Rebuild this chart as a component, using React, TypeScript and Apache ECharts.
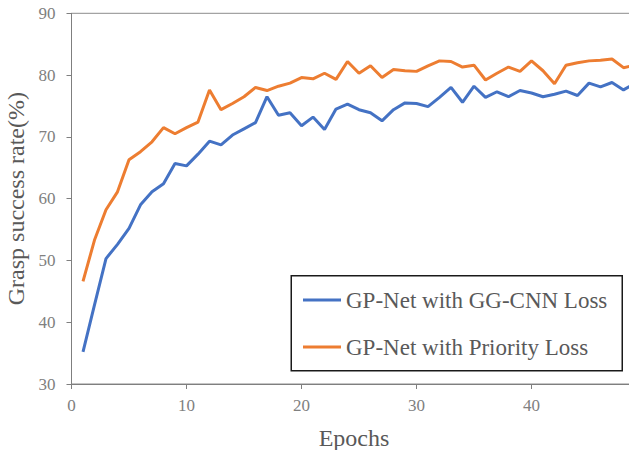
import React, { useEffect, useRef } from "react";
import * as echarts from "echarts";

const epochs = [
  1, 2, 3, 4, 5, 6, 7, 8, 9, 10, 11, 12, 13, 14, 15, 16, 17, 18, 19, 20, 21, 22, 23, 24, 25,
  26, 27, 28, 29, 30, 31, 32, 33, 34, 35, 36, 37, 38, 39, 40, 41, 42, 43, 44, 45, 46, 47, 48, 49,
];

const ggcnnLoss = [
  35.2, 42.8, 50.3, 52.6, 55.2, 59.0, 61.1, 62.4, 65.7, 65.3, 67.2, 69.3, 68.7, 70.3, 71.3, 72.3,
  76.5, 73.5, 73.9, 71.8, 73.2, 71.2, 74.5, 75.3, 74.4, 73.9, 72.6, 74.4, 75.5, 75.4, 74.9, 76.4,
  78.0, 75.6, 78.2, 76.4, 77.3, 76.5, 77.5, 77.1, 76.5, 76.9, 77.4, 76.7, 78.7, 78.1, 78.8, 77.6,
  78.7,
];

const priorityLoss = [
  46.6, 53.3, 58.2, 61.1, 66.3, 67.6, 69.2, 71.5, 70.5, 71.5, 72.4, 77.6, 74.4, 75.4, 76.5, 78.0,
  77.5, 78.2, 78.7, 79.6, 79.4, 80.3, 79.3, 82.2, 80.3, 81.5, 79.6, 80.9, 80.7, 80.6, 81.5, 82.3,
  82.2, 81.3, 81.6, 79.2, 80.3, 81.3, 80.6, 82.3, 80.7, 78.6, 81.6, 82.0, 82.3, 82.4, 82.6, 81.2,
  81.6,
];

const seriesNames = ["GP-Net with GG-CNN Loss", "GP-Net with Priority Loss"];
const xTicks = [0, 10, 20, 30, 40, 50];
const yTicks = [30, 40, 50, 60, 70, 80, 90];

const FONT = "'Liberation Serif', 'Times New Roman', serif";

export default function App() {
  const ref = useRef<HTMLDivElement>(null);

  useEffect(() => {
    if (!ref.current) return;
    const chart = echarts.init(ref.current, undefined, { renderer: "svg" });
    const toPairs = (vals: number[]) => epochs.map((e, i) => [e, vals[i]]);
    chart.setOption({
      animation: false,
      backgroundColor: "#ffffff",
      grid: {
        left: 71.5,
        top: 13.3,
        right: -17.5,
        bottom: 66,
        containLabel: false,
        outerBoundsMode: "none",
        show: true,
        borderColor: "#8c8c8c",
        borderWidth: 1,
        backgroundColor: "transparent",
      },
      xAxis: {
        type: "value",
        min: xTicks[0],
        max: xTicks[xTicks.length - 1],
        interval: 10,
        splitLine: { show: false },
        axisLine: { lineStyle: { color: "#7f7f7f", width: 1 } },
        axisTick: { show: true, inside: false, length: 5, lineStyle: { color: "#7f7f7f" } },
        axisLabel: {
          color: "#808080",
          fontFamily: FONT,
          fontSize: 17,
          margin: 13,
          showMaxLabel: false,
        },
        name: "Epochs",
        nameLocation: "middle",
        nameGap: 42,
        nameTextStyle: {
          color: "#595959",
          fontFamily: FONT,
          fontSize: 24,
          padding: [0, 10, 0, 0],
        },
      },
      yAxis: {
        type: "value",
        min: yTicks[0],
        max: yTicks[yTicks.length - 1],
        interval: 10,
        splitLine: { show: false },
        axisLine: { show: true, lineStyle: { color: "#7f7f7f", width: 1 } },
        axisTick: { show: true, inside: false, length: 5, lineStyle: { color: "#7f7f7f" } },
        axisLabel: {
          color: "#808080",
          fontFamily: FONT,
          fontSize: 17,
          margin: 16,
        },
        name: "Grasp success rate(%)",
        nameLocation: "middle",
        nameGap: 38,
        nameTextStyle: {
          color: "#595959",
          fontFamily: FONT,
          fontSize: 24,
        },
      },
      legend: {
        orient: "vertical",
        left: 303,
        top: 288.5,
        icon: "rect",
        itemWidth: 38,
        itemHeight: 3,
        itemGap: 24,
        padding: 0,
        z: 20,
        textStyle: { color: "#595959", fontFamily: FONT, fontSize: 23 },
        data: seriesNames,
      },
      graphic: [
        {
          type: "rect",
          left: 290.5,
          top: 275,
          z: 10,
          shape: { width: 331, height: 95 },
          style: { fill: "#ffffff", stroke: "#1a1a1a", lineWidth: 1.5 },
        },
      ],
      series: [
        {
          name: seriesNames[0],
          type: "line",
          data: toPairs(ggcnnLoss),
          symbol: "none",
          lineStyle: { color: "#4472C4", width: 3 },
          itemStyle: { color: "#4472C4" },
          z: 3,
        },
        {
          name: seriesNames[1],
          type: "line",
          data: toPairs(priorityLoss),
          symbol: "none",
          lineStyle: { color: "#ED7D31", width: 3 },
          itemStyle: { color: "#ED7D31" },
          z: 2,
        },
      ],
    });
    return () => chart.dispose();
  }, []);

  return (
    <div
      ref={ref}
      style={{ position: "absolute", left: 0, top: 0, width: 629, height: 450 }}
    />
  );
}
